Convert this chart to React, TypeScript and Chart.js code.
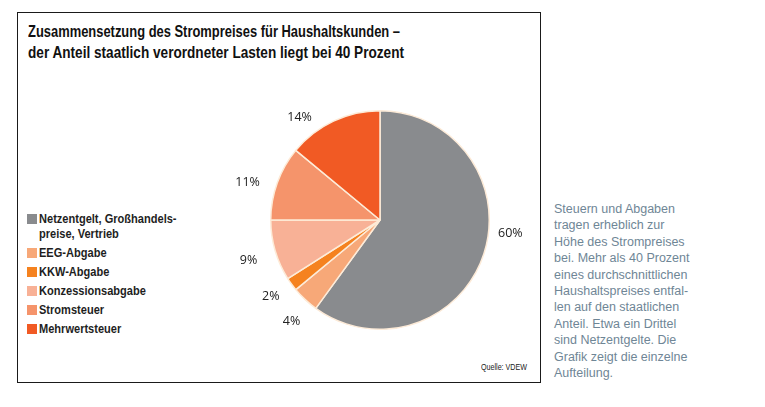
import React, { useEffect, useLayoutEffect, useRef } from "react";
import { Chart, registerables } from "chart.js";

Chart.register(...registerables);

const categories = [
  "Netzentgelt, Großhandels-\npreise, Vertrieb",
  "EEG-Abgabe",
  "KKW-Abgabe",
  "Konzessionsabgabe",
  "Stromsteuer",
  "Mehrwertsteuer",
];
const values = [60, 4, 2, 9, 11, 14];
const valueLabels = ["60%", "4%", "2%", "9%", "11%", "14%"];
const colors = ["#898b8e", "#f7a878", "#f5821f", "#f8b196", "#f5946b", "#f15a24"];
const labelAngleNudge = [-12, -2, 1, -1, -4, -13];
const labelRadiusFactor = [1.2, 1.23, 1.22, 1.26, 1.26, 1.19];

const titleLines = [
  "Zusammensetzung des Strompreises für Haushaltskunden –",
  "der Anteil staatlich verordneter Lasten liegt bei 40 Prozent",
];
const sideText = [
  "Steuern und Abgaben",
  "tragen erheblich zur",
  "Höhe des Strompreises",
  "bei. Mehr als 40 Prozent",
  "eines durchschnittlichen",
  "Haushaltspreises entfal-",
  "len auf den staatlichen",
  "Anteil. Etwa ein Drittel",
  "sind Netzentgelte. Die",
  "Grafik zeigt die einzelne",
  "Aufteilung.",
];
const sourceText = "Quelle: VDEW";

const sans = "'Liberation Sans', Arial, sans-serif";

const labelPlugin = {
  id: "pctLabels",
  afterDatasetsDraw(chart: any) {
    const ctx = chart.ctx;
    const meta = chart.getDatasetMeta(0);
    ctx.save();
    ctx.font = "12.5px 'Open Sans', 'DejaVu Sans', sans-serif";
    ctx.fillStyle = "#222";
    ctx.textAlign = "center";
    ctx.textBaseline = "middle";
    meta.data.forEach((arc: any, i: number) => {
      const p = arc.getProps(["x", "y", "startAngle", "endAngle", "outerRadius"], true);
      const mid = (p.startAngle + p.endAngle) / 2 + (labelAngleNudge[i] * Math.PI) / 180;
      const r = p.outerRadius * labelRadiusFactor[i];
      ctx.fillText(valueLabels[i], p.x + Math.cos(mid) * r, p.y + Math.sin(mid) * r);
    });
    ctx.restore();
  },
};

// Condensed look: horizontally scale text to a target width
function Squeeze({ target, style, children }: { target: number; style: any; children: any }) {
  const ref = useRef<HTMLSpanElement>(null);
  useLayoutEffect(() => {
    const el = ref.current;
    if (!el) return;
    el.style.transform = "none";
    const w = el.getBoundingClientRect().width;
    if (w > 0) el.style.transform = `scaleX(${target / w})`;
  }, [target]);
  return (
    <span
      ref={ref}
      style={{ display: "inline-block", whiteSpace: "nowrap", transformOrigin: "0 0", ...style }}
    >
      {children}
    </span>
  );
}

const legendScale = 0.85;

export default function App() {
  const ref = useRef<HTMLCanvasElement>(null);
  useEffect(() => {
    if (!ref.current) return;
    const chart = new Chart(ref.current, {
      type: "pie",
      data: {
        labels: categories,
        datasets: [
          {
            data: values,
            backgroundColor: colors,
            borderColor: "#fdebd8",
            borderWidth: 1.5,
          },
        ],
      },
      options: {
        animation: false,
        responsive: false,
        maintainAspectRatio: false,
        layout: { padding: { left: 40, right: 40, top: 14, bottom: 14 } },
        plugins: { legend: { display: false }, tooltip: { enabled: false } },
      },
      plugins: [labelPlugin],
    });
    return () => chart.destroy();
  }, []);

  const titleTargets = [372, 376];

  return (
    <div style={{ position: "absolute", left: 0, top: 0, width: 765, height: 407, background: "#fff", overflow: "hidden" }}>
      <div
        style={{
          position: "absolute",
          left: 17,
          top: 12,
          width: 522,
          height: 369,
          border: "1px solid #1a1a1a",
        }}
      />
      <div style={{ position: "absolute", left: 28, top: 21 }}>
        {titleLines.map((t, i) => (
          <div key={i} style={{ height: 21 }}>
            <Squeeze
              target={titleTargets[i]}
              style={{ fontFamily: sans, fontWeight: "bold", fontSize: 16.5, lineHeight: "21px", color: "#111" }}
            >
              {t}
            </Squeeze>
          </div>
        ))}
      </div>
      <div style={{ position: "absolute", left: 27, top: 211 }}>
        {categories.map((c, i) => (
          <div key={i} style={{ display: "flex", alignItems: "flex-start", marginBottom: 4 }}>
            <div style={{ width: 10, height: 10, background: colors[i], marginTop: 3, marginRight: 2, flex: "none" }} />
            <div>
              {c.split("\n").map((line, j) => (
                <div
                  key={j}
                  style={{
                    height: 15,
                    whiteSpace: "nowrap",
                    transformOrigin: "0 0",
                    transform: `scaleX(${legendScale})`,
                    fontFamily: sans,
                    fontWeight: "bold",
                    fontSize: 13,
                    lineHeight: "15px",
                    color: "#1e1e1e",
                  }}
                >
                  {line}
                </div>
              ))}
            </div>
          </div>
        ))}
      </div>
      <canvas ref={ref} width={300} height={250} style={{ position: "absolute", left: 230, top: 95, width: 300, height: 250 }} />
      <div style={{ position: "absolute", left: 481, top: 356 }}>
        <Squeeze target={46} style={{ fontFamily: sans, fontSize: 9, color: "#222" }}>
          {sourceText}
        </Squeeze>
      </div>
      <div
        style={{
          position: "absolute",
          left: 554,
          top: 201,
          fontFamily: sans,
          fontSize: 12.5,
          lineHeight: "16.4px",
          color: "#6f8696",
          whiteSpace: "nowrap",
        }}
      >
        {sideText.map((t, i) => (
          <div key={i}>{t}</div>
        ))}
      </div>
    </div>
  );
}
